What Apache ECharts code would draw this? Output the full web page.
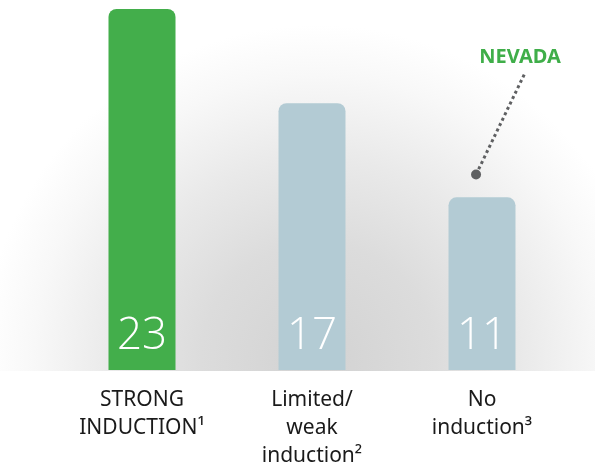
<!DOCTYPE html>
<html><head><meta charset="utf-8">
<script src="https://cdn.jsdelivr.net/npm/echarts@6/dist/echarts.min.js"></script>
<style>html,body{margin:0;padding:0;background:#fff}#c{width:595px;height:470px}</style>
</head><body><div id="c"></div>
<script>
// ---- data ----
const categories = ['STRONG\nINDUCTION¹', 'Limited/\nweak\ninduction²', 'No\ninduction³'];
const values = [23, 17, 11];
const barColors = ['#43ae4b', '#b3cbd4', '#b3cbd4'];
const pointerLabel = 'NEVADA';
// annotation pointer, in (category-position, value) units: start dot, end near label
const pointerX = [2.465, 2.753];
const pointerY = [12.45, 18.93];

const chart = echarts.init(document.getElementById('c'), null, {renderer: 'canvas'});

const bg = new echarts.graphic.RadialGradient(318, 360, 335, [
  {offset: 0, color: '#d2d2d2'},
  {offset: 0.35, color: '#dcdcdc'},
  {offset: 0.6, color: '#e9e9e9'},
  {offset: 0.85, color: '#f8f8f8'},
  {offset: 1, color: '#ffffff'}
], true);

chart.setOption({
  animation: false,
  backgroundColor: '#ffffff',
  graphic: [{
    type: 'rect', z: -100, silent: true,
    shape: {x: 0, y: 0, width: 595, height: 371},
    style: {fill: bg}
  }],
  grid: {left: 57, right: 28, top: 9, bottom: 99, containLabel: false},
  xAxis: [{
    type: 'category', data: categories,
    axisLine: {show: false}, axisTick: {show: false},
    axisLabel: {
      color: '#1a1a1a', fontFamily: 'Noto Sans', fontSize: 21,
      lineHeight: 28, margin: 16, interval: 0
    }
  }, {
    type: 'value', min: 0, max: 3, show: false
  }],
  yAxis: {type: 'value', min: 0, max: 23, show: false},
  series: [{
    type: 'bar', xAxisIndex: 0,
    barWidth: 67,
    data: values.map((v, i) => ({value: v, itemStyle: {color: barColors[i], borderRadius: [8, 8, 0, 0]}})),
    label: {
      show: true, position: 'insideBottom', distance: 12,
      color: '#ffffff', fontFamily: 'Open Sans', fontWeight: 300, fontSize: 44
    }
  }, {
    type: 'line', xAxisIndex: 1,
    symbol: 'circle',
    data: pointerX.map((x, i) => i === 0
      ? {value: [x, pointerY[i]], symbolSize: 10, label: {show: false}}
      : {value: [x, pointerY[i]], symbolSize: 0.1,
         label: {show: true, formatter: pointerLabel, position: 'top', distance: 6,
                 padding: [0, 10, 0, 0],
                 color: '#3fae49', fontFamily: 'Noto Sans', fontWeight: 'bold', fontSize: 20}}),
    itemStyle: {color: '#5f6062'},
    lineStyle: {color: '#5f6062', width: 3, type: [3, 3]},
    labelLayout: {hideOverlap: false},
    silent: true
  }]
});
</script></body></html>
